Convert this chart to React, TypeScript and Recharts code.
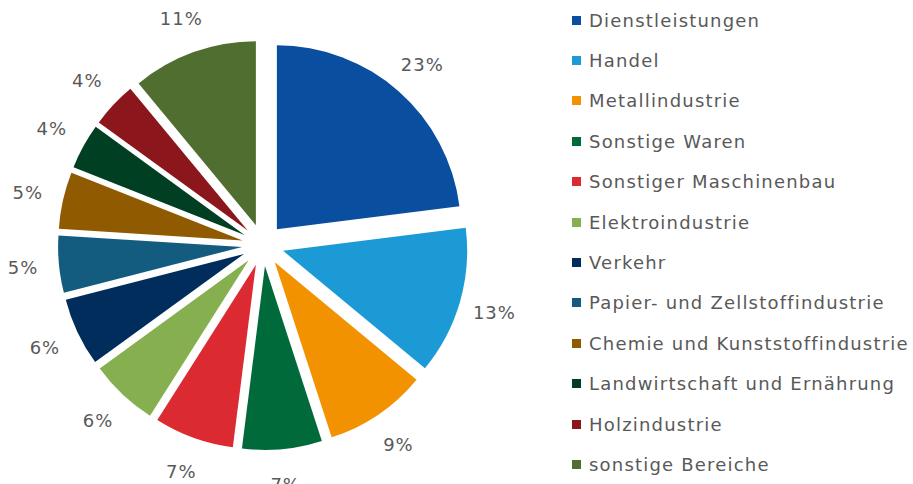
import { PieChart, Pie, Cell, Sector, Legend } from 'recharts'

const categories = [
  'Dienstleistungen',
  'Handel',
  'Metallindustrie',
  'Sonstige Waren',
  'Sonstiger Maschinenbau',
  'Elektroindustrie',
  'Verkehr',
  'Papier- und Zellstoffindustrie',
  'Chemie und Kunststoffindustrie',
  'Landwirtschaft und Ernährung',
  'Holzindustrie',
  'sonstige Bereiche',
]
const shares = [23, 13, 9, 7, 7, 6, 6, 5, 5, 4, 4, 11]
const colors = [
  '#0a4ea0', '#1b9ad6', '#f39200', '#006a3b', '#dc2a33', '#86b04f',
  '#002d5c', '#135c80', '#8f5a00', '#003f22', '#8b161b', '#4f6e30',
]

const data = categories.map((name, i) => ({ name, value: shares[i] }))

const RAD = Math.PI / 180
const EXPLODE = 21
const FONT = '"DejaVu Sans", sans-serif'
const TEXT = '#595959'

const ExplodedSector = (props: any) => {
  const { cx, cy, midAngle } = props
  const dx = EXPLODE * Math.cos(midAngle * RAD)
  const dy = -EXPLODE * Math.sin(midAngle * RAD)
  return <Sector {...props} cx={cx + dx} cy={cy + dy} />
}

const renderLabel = (props: any) => {
  const { cx, cy, midAngle, outerRadius, value } = props
  const r = outerRadius + EXPLODE + 36
  const x = cx + r * Math.cos(midAngle * RAD)
  const y = cy - r * Math.sin(midAngle * RAD)
  return (
    <text x={x} y={y} textAnchor="middle" dominantBaseline="central" fill={TEXT} fontSize={18} letterSpacing={1} fontFamily={FONT}>
      {`${value}%`}
    </text>
  )
}

// legend drawn in data order (recharts would sort it otherwise)
const LegendList = () => (
  <div style={{ fontFamily: FONT }}>
    {categories.map((name, i) => (
      <div key={name} style={{ height: 40.4, display: 'flex', alignItems: 'center' }}>
        <span style={{ width: 9, height: 9, background: colors[i], display: 'inline-block', marginRight: 8 }} />
        <span style={{ fontSize: 18, letterSpacing: 1.2, color: TEXT, whiteSpace: 'nowrap' }}>{name}</span>
      </div>
    ))}
  </div>
)

export default function App() {
  return (
    <div style={{ position: 'absolute', left: 0, top: 0, background: '#fff' }}>
      <PieChart width={913} height={484} margin={{ top: 0, right: 0, bottom: 0, left: 0 }}>
        <Pie
          data={data}
          dataKey="value"
          nameKey="name"
          cx={263}
          cy={245}
          outerRadius={184}
          startAngle={90}
          endAngle={-270}
          stroke="none"
          shape={ExplodedSector}
          label={renderLabel}
          labelLine={false}
          isAnimationActive={false}
        >
          {data.map((d, i) => <Cell key={d.name} fill={colors[i]} />)}
        </Pie>
        <Legend
          layout="vertical"
          align="right"
          verticalAlign="top"
          content={<LegendList />}
          wrapperStyle={{ left: 572, top: 0, width: 341 }}
        />
      </PieChart>
    </div>
  )
}
